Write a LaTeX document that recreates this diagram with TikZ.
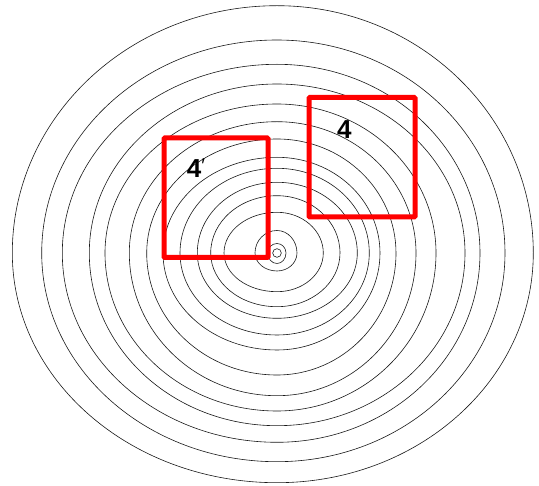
\documentclass[tikz,border=0pt]{standalone}
\usepackage{fontspec}
\setmainfont{Liberation Sans}
\begin{document}
\begin{tikzpicture}[x=1pt,y=-1pt,
  ring/.style={draw=black!90,line width=0.6pt},
  redbox/.style={draw=red,line width=5pt,rounded corners=0.8pt},
  lbl/.style={font=\fontsize{26}{26}\selectfont\bfseries,inner sep=0pt}]
\useasboundingbox (0,0) rectangle (539,486);
\fill[white] (0,0) rectangle (539,486);
\coordinate (pith) at (277,253);
% growth rings: left/right/top/bottom distances from the pith
\foreach \L/\R/\T/\B in {
  264.7/256.3/247.3/229.7,
  235.3/228/213/208.7,
  214.7/203/188.7/189.3,
  187.7/188/169/172.7,
  172/159/149/158,
  147.7/139/131.3/142.7,
  130.3/119/114/122,
  114/103/95.7/97,
  97/92.3/84.7/82,
  79.7/80.3/70.7/65.3,
  66.3/63/57.3/53.7,
  53/46.3/40.7/38.7,
  22/20/22.5/18,
  9.3/9/9.5/10.5}{
  \draw[ring] ([xshift=\R pt]pith)
    arc[start angle=0,end angle=90,x radius=\R,y radius=\B]
    arc[start angle=90,end angle=180,x radius=\L,y radius=\B]
    arc[start angle=180,end angle=270,x radius=\L,y radius=\T]
    arc[start angle=270,end angle=360,x radius=\R,y radius=\T] -- cycle;
}
\draw[ring] (pith) circle[radius=4.3];
% red frames
\draw[redbox] (164,138) rectangle (268,257.5);
\draw[redbox] (309,97.5) rectangle (415,217);
% labels
\node[lbl] (l4p) at (196,168.5) {4\raisebox{0.2em}{\normalfont\fontsize{20}{20}\selectfont ′}};
\node[lbl] (l4) at (344.3,129.3) {4};
\end{tikzpicture}
\end{document}
